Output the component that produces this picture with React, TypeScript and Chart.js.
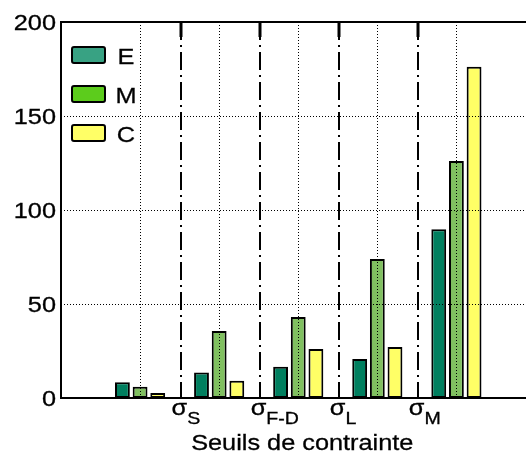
import React, { useEffect, useRef } from "react";
import { Chart, registerables } from "chart.js";

Chart.register(...registerables);

// ---- data ----
const groups = [1, 2, 3, 4, 5];
const seriesNames = ["E", "M", "C"];
const valuesE = [8.4, 13.5, 16.6, 20.7, 89.7];
const valuesM = [6.0, 35.7, 43.1, 73.9, 126];
const valuesC = [2.7, 9.2, 26.1, 27.1, 176.2];
const barColors = ["#007f5f", "#80c060", "#ffff66"];
const legendColors = ["#38a283", "#5ccc1c", "#ffff66"];
const thresholdPositions = [1.5, 2.5, 3.5, 4.5];
const thresholdBase = "σ";
const thresholdSubscripts = ["S", "F-D", "L", "M"];
const yTicks = [0, 50, 100, 150, 200];
const xTitle = "Seuils de contrainte";

const FONT = '"Liberation Sans", Arial, sans-serif';
const SX = 1.15;

function stretchText(ctx: CanvasRenderingContext2D, text: string, x: number, y: number, align: CanvasTextAlign, size: number) {
  ctx.save();
  ctx.font = `${size}px ${FONT}`;
  ctx.translate(x, y);
  ctx.scale(SX, 1);
  ctx.textAlign = align;
  ctx.textBaseline = "alphabetic";
  ctx.fillStyle = "#000";
  ctx.strokeStyle = "#000";
  ctx.lineWidth = 0.3;
  ctx.fillText(text, 0, 0);
  ctx.strokeText(text, 0, 0);
  ctx.restore();
}

function textWidth(ctx: CanvasRenderingContext2D, text: string, size: number) {
  ctx.save();
  ctx.font = `${size}px ${FONT}`;
  const w = ctx.measureText(text).width * SX;
  ctx.restore();
  return w;
}

const overlay = {
  id: "overlay",
  afterDatasetsDraw(chart: any) {
    const { ctx, chartArea: a, scales } = chart;
    const xs = scales.x;
    const ys = scales.y;
    ctx.save();
    ctx.strokeStyle = "#000";
    // dotted grid
    ctx.lineWidth = 1;
    ctx.setLineDash([1, 2]);
    yTicks.forEach((v) => {
      if (v === yTicks[0] || v === yTicks[yTicks.length - 1]) return;
      const py = Math.round(ys.getPixelForValue(v)) + 0.5;
      ctx.beginPath();
      ctx.moveTo(a.left, py);
      ctx.lineTo(a.right, py);
      ctx.stroke();
    });
    groups.forEach((g) => {
      const px = Math.round(xs.getPixelForValue(g)) + 0.5;
      ctx.beginPath();
      ctx.moveTo(px, a.top);
      ctx.lineTo(px, a.bottom);
      ctx.stroke();
    });
    // dash-dot threshold lines
    ctx.lineWidth = 2;
    ctx.setLineDash([18, 5, 2, 5]);
    thresholdPositions.forEach((v) => {
      const px = Math.round(xs.getPixelForValue(v)) + 1;
      ctx.beginPath();
      ctx.moveTo(px, a.top);
      ctx.lineTo(px, a.bottom);
      ctx.stroke();
    });
    ctx.setLineDash([]);
    ctx.lineWidth = 3;
    thresholdPositions.forEach((v) => {
      const px = Math.round(xs.getPixelForValue(v)) + 1;
      ctx.beginPath();
      ctx.moveTo(px, a.top);
      ctx.lineTo(px, a.top + 15);
      ctx.stroke();
    });
    // axes box
    ctx.lineWidth = 2;
    ctx.beginPath();
    ctx.moveTo(a.left, a.top);
    ctx.lineTo(a.right, a.top);
    ctx.moveTo(a.left, a.top - 1);
    ctx.lineTo(a.left, a.bottom + 1);
    ctx.moveTo(a.left, a.bottom);
    ctx.lineTo(a.right, a.bottom);
    ctx.stroke();
    ctx.restore();
  },
  afterDraw(chart: any) {
    const { ctx, chartArea: a, scales } = chart;
    const xs = scales.x;
    const ys = scales.y;
    // y tick labels
    yTicks.forEach((v) => {
      const py = ys.getPixelForValue(v);
      stretchText(ctx, String(v), a.left - 5, py + 7.8, "right", 22);
    });
    // x tick labels with subscripts
    thresholdPositions.forEach((v, i) => {
      const px = xs.getPixelForValue(v);
      const left = px - 8;
      stretchText(ctx, thresholdBase, left, 415, "left", 22);
      const w = textWidth(ctx, thresholdBase, 22);
      stretchText(ctx, thresholdSubscripts[i], left + w, 424, "left", 17);
    });
    // x title
    const cx = xs.getPixelForValue(3) + 4;
    stretchText(ctx, xTitle, cx, 450, "center", 22);
    // legend
    const datasets = chart.data.datasets;
    datasets.forEach((ds: any, i: number) => {
      const top = a.top + 25 + i * 39;
      const bx = a.left + 11;
      ctx.save();
      ctx.fillStyle = legendColors[i];
      ctx.strokeStyle = "#000";
      ctx.lineWidth = 2;
      ctx.beginPath();
      (ctx as any).roundRect ? (ctx as any).roundRect(bx, top, 33, 16, 2) : ctx.rect(bx, top, 33, 16);
      ctx.fill();
      ctx.stroke();
      ctx.restore();
      stretchText(ctx, ds.label, a.left + 65, top + 16.5, "center", 22);
    });
  },
};

export default function App() {
  const ref = useRef<HTMLCanvasElement | null>(null);
  useEffect(() => {
    if (!ref.current) return;
    const seriesValues = [valuesE, valuesM, valuesC];
    const chart = new Chart(ref.current, {
      type: "bar",
      data: {
        datasets: seriesNames.map((name, s) => ({
          label: name,
          data: groups.map((g, i) => ({ x: g, y: seriesValues[s][i] })),
          backgroundColor: barColors[s],
          borderColor: "#000",
          borderWidth: 2,
          borderSkipped: false,
          categoryPercentage: 0.67,
          barPercentage: 0.84,
        })),
      },
      options: {
        animation: false,
        responsive: true,
        maintainAspectRatio: false,
        layout: { padding: { top: 22, left: 0, right: 0, bottom: 0 } },
        plugins: { legend: { display: false }, tooltip: { enabled: false } },
        scales: {
          x: {
            type: "linear",
            min: 0,
            max: 5.88,
            offset: false,
            grid: { display: false, offset: false },
            border: { display: false },
            ticks: { display: false },
            afterBuildTicks: (scale: any) => {
              scale.ticks = thresholdPositions.map((v) => ({ value: v }));
            },
            afterFit: (scale: any) => {
              scale.height = 58;
            },
          },
          y: {
            min: 0,
            max: 200,
            grid: { display: false },
            border: { display: false },
            ticks: { display: false },
            afterBuildTicks: (scale: any) => {
              scale.ticks = yTicks.map((v) => ({ value: v }));
            },
            afterFit: (scale: any) => {
              scale.width = 61;
            },
          },
        },
      } as any,
      plugins: [overlay],
    });
    return () => chart.destroy();
  }, []);
  return (
    <div style={{ position: "fixed", left: 0, top: 0, width: 526, height: 456, background: "#fff" }}>
      <canvas ref={ref} />
    </div>
  );
}
